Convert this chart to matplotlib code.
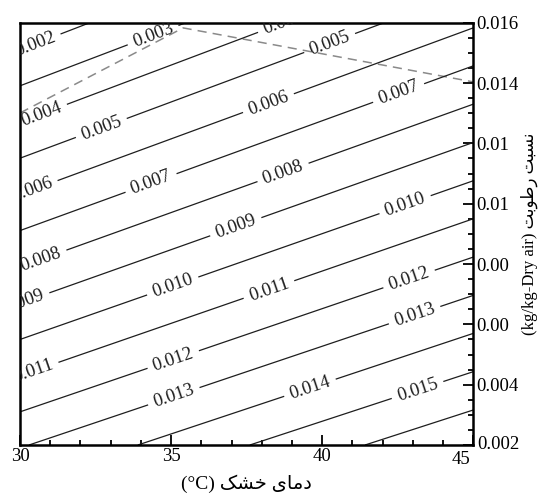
import numpy as np
import matplotlib
matplotlib.use("Agg")
import matplotlib.pyplot as plt
import matplotlib.transforms as mtransforms
from matplotlib.ticker import FixedLocator, MultipleLocator

# ------------------------------------------
# data
# ------------------------------------------
# contour levels and where each one crosses the left (30 C) and right (45 C) edges
levels = [0.001, 0.002, 0.003, 0.004, 0.005, 0.006, 0.007, 0.008, 0.009,
          0.010, 0.011, 0.012, 0.013, 0.014, 0.015, 0.016, 0.017]
w_at_30 = [0.01631, 0.01511, 0.01391, 0.01271, 0.01151, 0.01031, 0.00911, 0.00791, 0.00670,
           0.00550, 0.00430, 0.00310, 0.00190, 0.00070, -0.00050, -0.00170, -0.00290]
w_at_45 = [0.02220, 0.02090, 0.01963, 0.01837, 0.01710, 0.01583, 0.01457, 0.01330, 0.01203,
           0.01076, 0.00950, 0.00823, 0.00696, 0.00570, 0.00443, 0.00316, 0.00189]

# dashed boundary line
dash_T = [30.0, 35.4, 45.0]
dash_w = [0.01301, 0.01583, 0.01404]

# label positions (T, w)
label_pos = [(30.45, 0.01544), (34.4, 0.01560), (30.66, 0.01311), (38.8, 0.01593),
             (32.65, 0.01262), (40.26, 0.01530), (30.4, 0.01046), (38.28, 0.01318),
             (34.3, 0.01079), (42.58, 0.01354), (30.66, 0.00824), (38.77, 0.01086),
             (30.1, 0.00681), (37.12, 0.00930), (35.1, 0.00714), (42.75, 0.00996),
             (30.4, 0.00455), (38.28, 0.00704), (35.1, 0.00475), (42.91, 0.00741),
             (35.1, 0.00359), (43.08, 0.00625), (39.6, 0.00389), (43.18, 0.00376)]

x_ticks = [30, 35, 40, 45]
y_ticks = [0.002, 0.004, 0.006, 0.008, 0.010, 0.012, 0.014, 0.016]
y_tick_labels = ["0.002", "0.004", "0.00", "0.00", "0.01", "0.01", "0.014", "0.016"]

# Persian text already in visual order (presentation forms)
x_label = "(\u00b0C) \ufb8f\ufeb8\ufea7 \ufeef\ufe8e\ufee3\ufea9"
y_label = "(kg/kg-Dry air) \ufe96\ufe91\ufeee\ufec3\ufead \ufe96\ufe92\ufeb4\ufee7"

fam = ["Liberation Serif", "DejaVu Sans"]
plt.rcParams["font.family"] = fam

# ------------------------------------------
# field for the contour routine
# ------------------------------------------
lev = np.array(levels)
wl = np.array(w_at_30)
wr = np.array(w_at_45)
T = np.linspace(30, 45, 301)
W = np.linspace(0.002, 0.016, 281)
frac = (T - 30) / 15.0
W_lev = wl[:, None] + (wr - wl)[:, None] * frac[None, :]
Z = np.empty((len(W), len(T)))
for j in range(len(T)):
    Z[:, j] = np.interp(W, W_lev[::-1, j], lev[::-1])

fig = plt.figure(figsize=(5.42, 4.95), dpi=100)
ax = fig.add_axes([0.037, 0.101, 0.836, 0.853])

cs = ax.contour(T, W, Z, levels=levels, colors="#1e1e1e", linewidths=0.9)
ax.plot(dash_T, dash_w, color="#8a8a8a", lw=1.1, dashes=(6, 4), zorder=1)

ax.clabel(cs, inline=True, fmt="%.3f", fontsize=13.5, manual=label_pos,
          inline_spacing=6)
for t in ax.texts:
    t.set_clip_path(ax.patch)
    t.set_color("#1e1e1e")

ax.set_xlim(30, 45)
ax.set_ylim(0.002, 0.016)

ax.xaxis.set_major_locator(FixedLocator(x_ticks))
ax.xaxis.set_minor_locator(MultipleLocator(1))
ax.yaxis.set_major_locator(FixedLocator(y_ticks))
ax.yaxis.set_minor_locator(MultipleLocator(0.0005))
ax.set_yticklabels(y_tick_labels)
ax.yaxis.tick_right()
ax.yaxis.set_label_position("right")

ax.tick_params(which="both", direction="in", top=False, left=False,
               labelsize=13.5, pad=2, width=1.3)
ax.tick_params(which="major", length=7)
ax.tick_params(which="minor", length=3.5)

# nudge "45" left and "0.002" up so they don't collide at the corner
fig.canvas.draw()
lbl45 = ax.get_xticklabels()[-1]
lbl45.set_transform(lbl45.get_transform() +
                    mtransforms.ScaledTranslation(-9 / 72, -2 / 72, fig.dpi_scale_trans))
lbl002 = ax.get_yticklabels()[0]
lbl002.set_transform(lbl002.get_transform() +
                     mtransforms.ScaledTranslation(1 / 72, 2 / 72, fig.dpi_scale_trans))

for s in ax.spines.values():
    s.set_linewidth(1.8)

ax.set_xlabel(x_label, fontsize=14, labelpad=5)
ax.set_ylabel(y_label, fontsize=12, rotation=90, labelpad=1)

fig.savefig("out.png", dpi=100)
